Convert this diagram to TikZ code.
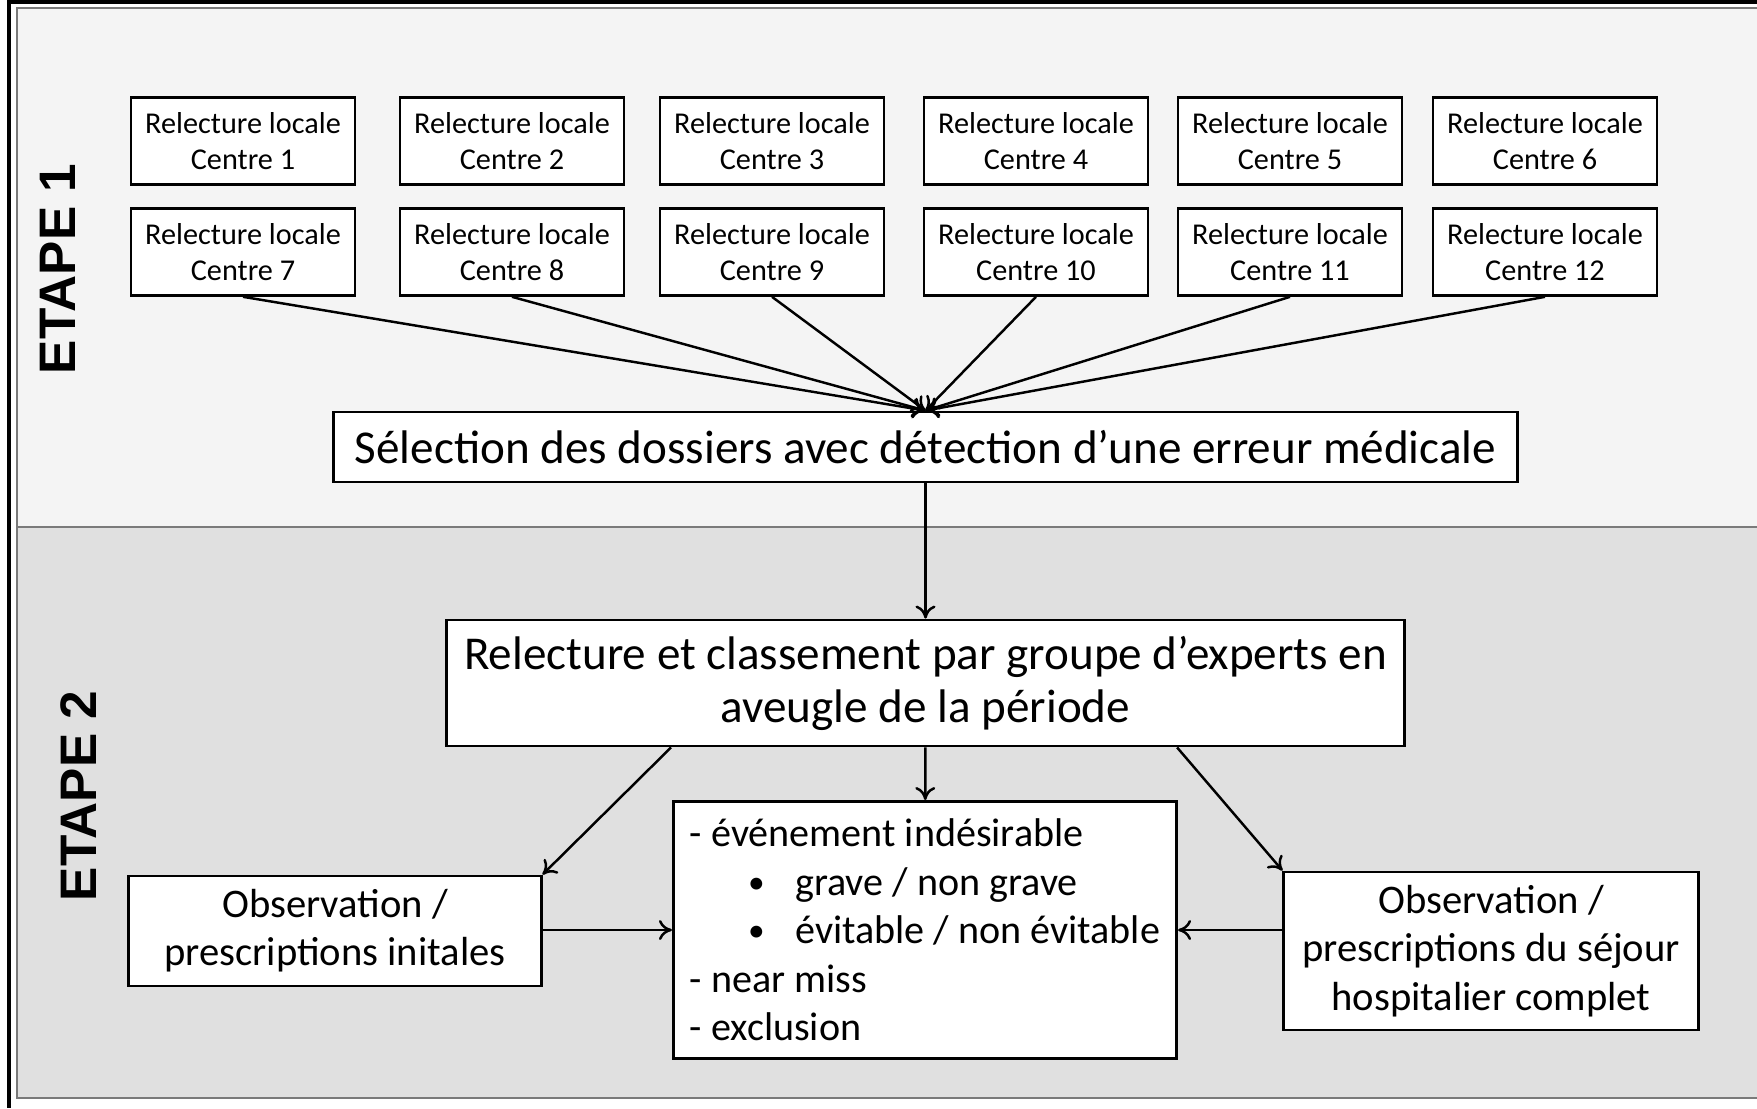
\documentclass[tikz,border=0pt]{standalone}
\usepackage{fontspec}
\setmainfont{Carlito}
\newfontfamily\etapefont{Liberation Sans}
\usetikzlibrary{positioning, calc, arrows.meta}
\definecolor{paneA}{HTML}{F4F4F4}
\definecolor{paneB}{HTML}{E0E0E0}
\definecolor{rim}{HTML}{7A7A7A}
\newcommand{\puce}{\makebox[1.18em][l]{\raisebox{0.05em}{\fontsize{9.5pt}{9.5pt}\selectfont\textbullet}}}
\begin{document}
\begin{tikzpicture}[x=0.01cm, y=-0.01cm, >={To[length=1.3mm, width=2mm]},
	box/.style={draw, fill=white, line width=0.8pt, align=center, inner sep=2pt},
	loc/.style={box, minimum width=2.24cm, minimum height=0.87cm, font=\fontsize{8.6pt}{10.2pt}\selectfont},
	big/.style={box, font=\fontsize{13.4pt}{15.1pt}\selectfont},
	mid/.style={box, font=\fontsize{11.55pt}{13.7pt}\selectfont},
	etape/.style={rotate=90, font=\etapefont\bfseries\fontsize{14.6pt}{16pt}\selectfont},
	lnk/.style={->, line width=0.7pt}]
		\useasboundingbox (0,0) rectangle (1757,1108);
		\clip (0,0) rectangle (1757,1108);
		\fill[white] (0,0) rectangle (1757,1108);
		% the two stages
		\draw[rim, line width=0.6pt, fill=paneA] (17,8) rectangle (1770,527);
		\draw[rim, line width=0.6pt, fill=paneB] (17,527) rectangle (1770,1098);
		\draw[line width=0.04cm] (7,2) -- (1757,2);
		\draw[line width=0.04cm] (9,0) -- (9,1108);
		\node[etape] (e1) at (58,269) {ETAPE 1};
		\node[etape] (e2) at (79,796) {ETAPE 2};
		% local readings
		\foreach \x [count=\i, evaluate=\i as \j using int(\i+6)] in {243,512,772,1036,1290,1545} {
			\node[loc] (c\i) at (\x,141) {Relecture locale\\Centre \i};
			\node[loc, below=0.21cm of c\i] (c\j) {Relecture locale\\Centre \j};
		}
		\node[big, minimum width=11.83cm, minimum height=0.70cm] (sel) at (925.5,447) {Sélection des dossiers avec détection d’une erreur médicale};
		\foreach \j in {7,...,12} \draw[lnk] (c\j.south) -- (sel.north);
		\node[big, minimum width=9.57cm, minimum height=1.26cm] (exp) at (925.5,683) {Relecture et classement par groupe d’experts en\\aveugle de la période};
		\draw[lnk] (sel) -- (exp);
		\node[mid, align=left, minimum width=5.03cm, minimum height=2.57cm, font=\fontsize{11.4pt}{13.8pt}\selectfont] (lst) at (925,930) {- événement indésirable\\
			\hspace*{1.45em}\puce grave / non grave\\
			\hspace*{1.45em}\puce évitable / non évitable\\
			- near miss\\
			- exclusion};
		\node[mid, minimum width=4.12cm, minimum height=1.10cm] (obsi) at (335,931) {Observation /\\prescriptions initales};
		\node[mid, minimum width=4.14cm, minimum height=1.58cm] (obsr) at (1491,951) {Observation /\\prescriptions du séjour\\hospitalier complet};
		\draw[lnk] ($(exp.south west)!.235!(exp.south east)$) -- (obsi.north east);
		\draw[lnk] (exp) -- (lst);
		\draw[lnk] ($(exp.south west)!.762!(exp.south east)$) -- (obsr.north west);
		\draw[lnk] (obsi.east |- lst.west) -- (lst.west);
		\draw[lnk] (obsr.west |- lst.east) -- (lst.east);
	\end{tikzpicture}
\end{document}
